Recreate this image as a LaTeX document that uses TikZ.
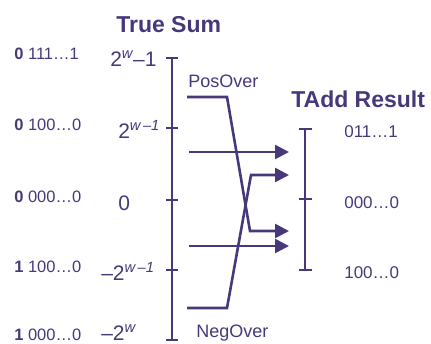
\documentclass[tikz,border=0pt]{standalone}
\usepackage{fontspec}
\setmainfont{Liberation Sans}
\usetikzlibrary{positioning, arrows.meta}
\definecolor{ink}{RGB}{72,56,122}

\begin{document}
\begin{tikzpicture}[x=1pt, y=-1pt, line width=2.6pt, color=ink,
    bits/.style={anchor=base west, inner sep=0pt, font=\fontsize{16.5}{16.5}\selectfont},
    value/.style={anchor=base west, inner sep=0pt, font=\fontsize{21}{21}\selectfont},
    result/.style={anchor=base west, inner sep=0pt, font=\fontsize{17}{17}\selectfont},
    title/.style={anchor=base west, inner sep=0pt, font=\bfseries\fontsize{23}{23}\selectfont},
    over/.style={-{Triangle[length=14pt, width=14pt]}}]
    \useasboundingbox (0,0) rectangle (431,343);

    % Titles
    \node[title] (truesum) at (115,32) {True Sum};
    \node[title] (tadd) at (290,107) {TAdd Result};

    % Draw true sum axis with ticks
    \foreach \y/\n in {58/top, 128/hi, 200/mid, 270/lo, 340/bot} {
      \coordinate (l\n) at (172,\y);
      \draw (166,\y) -- (178,\y);
    }
    \draw (ltop) -- (lbot);

    % Bit patterns on the left
    \foreach \y/\s/\r in {59/0/111…1, 130/0/100…0, 202/0/000…0, 272/1/100…0, 340/1/000…0} {
      \node[bits] (bits\y) at (13,\y) {\textbf{\s} \r};
    }

    % Values next to the axis
    \node[value] (vtop) at (109,66) {2\textsuperscript{\itshape w}–1};
    \node[value] (vhi) at (117,138) {2\textsuperscript{\itshape w\,–1}};
    \node[value] (vzero) at (117,210) {0};
    \node[value] (vlo) at (100,280) {–2\textsuperscript{\itshape w\,–1}};
    \node[value] (vbot) at (100,340) {–2\textsuperscript{\itshape w}};

    % Draw result axis with ticks
    \foreach \y/\n in {129/top, 199/mid, 270/bot} {
      \coordinate (r\n) at (305,\y);
      \draw (299,\y) -- (312,\y);
    }
    \draw (rtop) -- (rbot);
    \foreach \y/\r in {137/011…1, 208/000…0, 278/100…0} {
      \node[result] (res\y) at (343,\y) {\r};
    }

    % Overflow labels
    \node[result, font=\fontsize{18}{18}\selectfont] (posover) at (187,87) {PosOver};
    \node[result, font=\fontsize{18}{18}\selectfont] (negover) at (195,337) {NegOver};

    % Straight mappings
    \foreach \y/\n in {152/a, 246/b} {
      \coordinate (s\n) at (189,\y);
      \coordinate (e\n) at (289,\y);
      \draw[over] (s\n) -- (e\n);
    }

    % Positive overflow wraps down
    \coordinate (pstart) at (187,97);
    \coordinate (pbend) at (227,97);
    \coordinate (pturn) at (250,231);
    \coordinate (pend) at (289,231);
    \draw[over] (pstart) -- (pbend) -- (pturn) -- (pend);

    % Negative overflow wraps up
    \coordinate (nstart) at (187,308);
    \coordinate (nbend) at (227,308);
    \coordinate (nturn) at (251,175);
    \coordinate (nend) at (289,175);
    \draw[over] (nstart) -- (nbend) -- (nturn) -- (nend);
\end{tikzpicture}
\end{document}
